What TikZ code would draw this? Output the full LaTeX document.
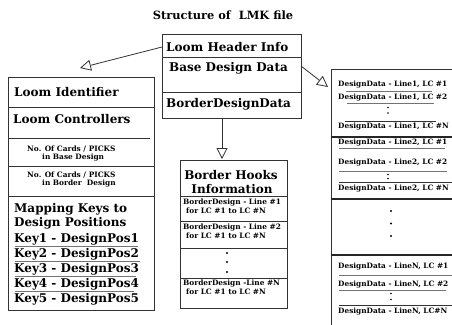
\documentclass[tikz,border=0pt]{standalone}
\usepackage{fontspec}
\setmainfont{DejaVu Serif}
\usetikzlibrary{arrows.meta}
\begin{document}
\begin{tikzpicture}[x=1pt,y=-1pt,
  box/.style={draw=black!80,line width=0.9pt,inner sep=0pt,outer sep=0pt,anchor=north west},
  big/.style={inner sep=0pt,anchor=west,font=\fontsize{12}{14}\selectfont\bfseries},
  small/.style={inner sep=0pt,anchor=west,font=\fontsize{7.4}{8}\selectfont\bfseries},
  rl/.style={font=\fontsize{7.35}{8}\selectfont\bfseries,inner sep=0pt,anchor=west},
  div/.style={draw=black!80,line width=0.8pt},
  thick div/.style={draw=black!85,line width=1.8pt},
  ul/.style={draw=black!55,line width=0.8pt},
  oarr/.style={draw=black!80,line width=0.8pt,-{Triangle[open,length=11pt,width=11pt,fill=white]}},
  dotn/.style={circle,fill=black,inner sep=0pt,minimum size=2.4pt},
  smdot/.style={circle,fill=black,inner sep=0pt,minimum size=1.6pt}]
\useasboundingbox (0,0) rectangle (452,324);
\clip (0,0) rectangle (452,324);
% title
\node[font=\fontsize{11.4}{13}\selectfont\bfseries,inner sep=0pt] (title) at (223,15) {Structure of\ \ LMK file};
% top box
\node[box,minimum width=139pt,minimum height=84pt] (top) at (162,34) {};
\draw[div] (162,57) -- (301,57);
\draw[div] (162,92) -- (301,92);
\node[big] (hdr) at (166,47) {Loom Header Info};
\node[big] (bdd) at (169,68) {Base Design Data};
\node[big] (bord) at (166,104) {BorderDesignData};
% left box
\node[box,minimum width=146pt,minimum height=233pt] (left) at (8,77) {};
\draw[div] (8,107) -- (154,107);
\draw[div] (8,138) -- (150,138);
\draw[div] (8,166) -- (154,166);
\draw[div] (8,196) -- (154,196);
\node[big] (li) at (14,92) {Loom Identifier};
\node[big] (lc) at (13,119) {Loom Controllers};
\node[small] (nc1) at (27,149) {No. Of Cards / PICKS};
\node[small] (nb1) at (42,157.5) {in Base Design};
\node[small] (nc2) at (27,175) {No. Of Cards / PICKS};
\node[small] (nb2) at (42,184) {in Border\ \ Design};
\node[big] (mk) at (14,209) {Mapping Keys to};
\node[big] (dp) at (14,223) {Design Positions};
\node[big] (k1) at (14,239) {Key1 - DesignPos1};
\node[big] (k2) at (14,254) {Key2 - DesignPos2};
\node[big] (k3) at (14,269) {Key3 - DesignPos3};
\node[big] (k4) at (14,284) {Key4 - DesignPos4};
\node[big] (k5) at (14,299) {Key5 - DesignPos5};
\draw[ul] (15,246.5) -- (138,246.5);
\draw[ul] (15,261.5) -- (140,261.5);
\draw[ul] (15,276.5) -- (136,276.5);
\draw[ul] (15,291.5) -- (134,291.5);
% border hooks box
\node[box,minimum width=107pt,minimum height=148pt] (bh) at (180,160) {};
\draw[div] (180,196) -- (287,196);
\draw[div] (180,221) -- (287,221);
\draw[div] (180,248) -- (287,248);
\draw[div] (180,278) -- (287,278);
\node[big,anchor=center] (bh1) at (231,175) {Border Hooks};
\node[big,anchor=center] (bh2) at (232,189) {Information};
\node[small] (b1a) at (183,203) {BorderDesign - Line \#1};
\node[small] (b1b) at (186,210.5) {for LC \#1 to LC \#N};
\node[small] (b2a) at (183,228) {BorderDesign - Line \#2};
\node[small] (b2b) at (186,236) {for LC \#1 to LC \#N};
\node[dotn] (bd1) at (227,253) {};
\node[dotn] (bd2) at (227,262) {};
\node[dotn] (bd3) at (227,272) {};
\node[small] (bna) at (183,284) {BorderDesign -Line \#N};
\node[small] (bnb) at (186,291.5) {for LC \#1 to LC \#N};
% right box
\node[box,minimum width=140pt,minimum height=270pt] (rb) at (331,69) {};
\node[rl] (r11) at (338,85) {DesignData - Line1, LC \#1};
\draw[ul] (346,91.5) -- (432,91.5);
\node[rl] (r12) at (338,98) {DesignData - Line1, LC \#2};
\draw[ul] (347,103.5) -- (434,103.5);
\node[smdot] (c1a) at (388,107.5) {};
\node[smdot] (c1b) at (388,113) {};
\draw[div] (345,121) -- (436,121);
\node[rl] (r1n) at (338,126.5) {DesignData - Line1, LC \#N};
\draw[thick div] (331,137) -- (452,137);
\node[rl] (r21) at (338,142.5) {DesignData - Line2, LC \#1};
\draw[ul] (339,148.5) -- (445,148.5);
\node[rl] (r22) at (338,163) {DesignData - Line2, LC \#2};
\draw[ul] (339,171) -- (447,171);
\node[smdot] (c2a) at (388,174.5) {};
\node[smdot] (c2b) at (388,178.5) {};
\draw[div] (339,182) -- (452,182);
\node[rl] (r2n) at (338,188.5) {DesignData - Line2, LC \#N};
\draw[thick div] (331,199) -- (452,199);
\node[dotn] (rd1) at (391,211) {};
\node[dotn] (rd2) at (391,223.5) {};
\node[dotn] (rd3) at (391,236) {};
\draw[thick div] (331,255) -- (452,255);
\node[rl] (rn1) at (338,267) {DesignData - LineN, LC \#1};
\draw[ul] (339,275) -- (452,275);
\node[rl] (rn2) at (338,284.5) {DesignData - LineN, LC \#2};
\draw[ul] (339,290) -- (446,290);
\node[smdot] (c3a) at (391,293.5) {};
\node[smdot] (c3b) at (391,299.5) {};
\draw[div] (339,305) -- (452,305);
\node[rl] (rnn) at (338,312) {DesignData - LineN, LC\#N};
% connectors
\coordinate (a1s) at (162,47);
\coordinate (a1e) at (80,68);
\draw[oarr] (a1s) -- (a1e);
\coordinate (a2s) at (301,66);
\coordinate (a2e) at (328,87);
\draw[oarr] (a2s) -- (a2e);
\coordinate (a3s) at (222,118);
\coordinate (a3e) at (222,159);
\draw[oarr] (a3s) -- (a3e);
\end{tikzpicture}
\end{document}
